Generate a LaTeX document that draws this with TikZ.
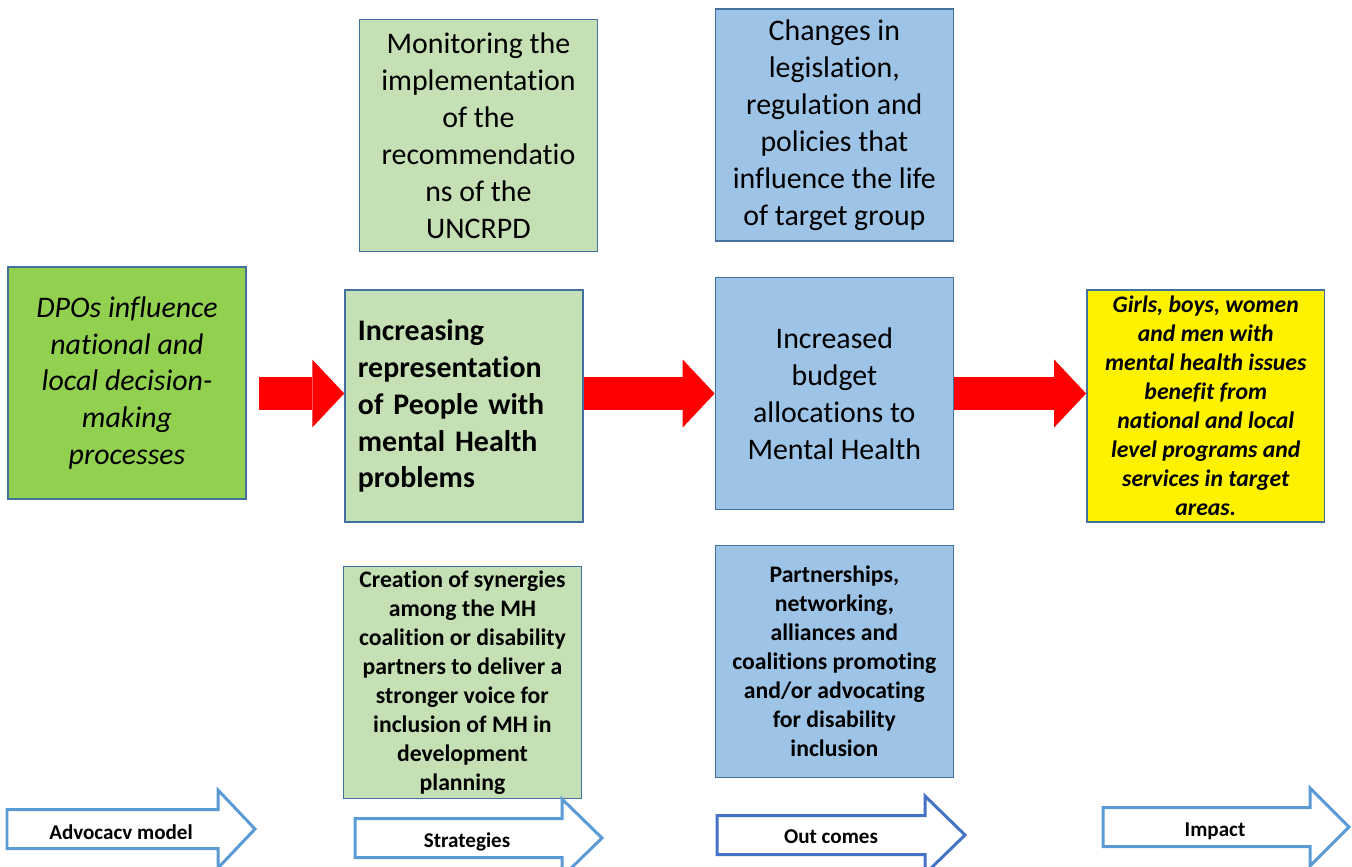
\documentclass[tikz,border=0pt]{standalone}
\usepackage{fontspec}
\setmainfont[Ligatures={NoCommon,NoContextual,NoRare},Contextuals=NoAlternate]{Carlito}
\usepackage{tikz}
\usetikzlibrary{arrows.meta}
\definecolor{grass}{HTML}{92D050}
\definecolor{sage}{HTML}{C5E0B4}
\definecolor{sky}{HTML}{9DC3E6}
\definecolor{rim}{HTML}{41719C}
\definecolor{lineblue}{HTML}{5B9BD5}
\definecolor{deepblue}{HTML}{4472C4}
\newcommand\bigfont{\fontsize{17}{21}\selectfont}
\newcommand\smallfont{\fontsize{13.5}{16.5}\selectfont\bfseries}

\begin{document}
\begin{tikzpicture}[x=0.02cm,y=-0.02cm,
	box/.style={draw=rim,line width=0.8pt,minimum width=4.76cm,minimum height=4.64cm,inner sep=0pt,align=center},
	push/.style={red,line width=0.66cm,-{Triangle[length=0.64cm 0 0,width=1.36cm 0 0,line width=0pt 0 0]}},
	tag/.style={font=\fontsize{12}{14}\selectfont\bfseries,anchor=base}]
	\useasboundingbox (0,0) rectangle (1352,866);
	\clip (0,0) rectangle (1352,866);
	\node(dpo) [box,fill=grass,font=\bigfont\itshape] at (127,383) {DPOs influence\\national and\\local decision-\\making\\processes};
	\node(inc) [box,fill=sage,font=\bigfont\bfseries,right of=dpo,node distance=6.74cm,yshift=-0.46cm,align=left,text width=4.24cm] {Increasing\\representation\\of People with\\mental Health\\problems};
	\node(mon) [box,fill=sage,font=\bigfont,above of=inc,node distance=5.41cm,xshift=0.29cm] {Monitoring the\\implementation\\of the\\recommendatio\\ns of the\\UNCRPD};
	\node(syn) [box,fill=sage,font=\smallfont,below of=inc,node distance=5.53cm,xshift=-0.03cm] {Creation of synergies\\among the MH\\coalition or disability\\partners to deliver a\\stronger voice for\\inclusion of MH in\\development\\planning};
	\node(bud) [box,fill=sky,font=\bigfont,right of=inc,node distance=7.41cm,yshift=0.25cm] {Increased\\budget\\allocations to\\Mental Health};
	\node(leg) [box,fill=sky,font=\bigfont,above of=bud,node distance=5.37cm] {Changes in\\legislation,\\regulation and\\policies that\\influence the life\\of target group};
	\node(net) [box,fill=sky,font=\smallfont,below of=bud,node distance=5.36cm] {Partnerships,\\networking,\\alliances and\\coalitions promoting\\and/or advocating\\for disability\\inclusion};
	\node(ben) [box,fill=yellow,font=\smallfont\itshape,right of=bud,node distance=7.43cm,yshift=-0.25cm] {Girls, boys, women\\and men with\\mental health issues\\benefit from\\national and local\\level programs and\\services in target\\areas.};
	% red arrows along the middle row
	\draw[push,shorten <=0.24cm] (dpo.east |- bud) -- (inc.west |- bud);
	\draw[push] (inc.east |- bud) -- (bud.west);
	\draw[push] (bud.east) -- (ben.west |- bud);
	% outlined arrows with the row titles
	\foreach \xl/\xh/\xt/\yc/\col in {7/218/255/829/lineblue,355/562/602/838/lineblue,717/925/965/835/deepblue,1103/1310/1349/827/lineblue}
		\draw[\col,line width=0.06cm,fill=white] (\xl,\yc-19.5) -- (\xh,\yc-19.5) -- (\xh,\yc-39) -- (\xt,\yc) -- (\xh,\yc+39) -- (\xh,\yc+19.5) -- (\xl,\yc+19.5) -- cycle;
	\node(advl) [tag] at (121,839) {Advocacv model};
	\node(strl) [tag] at (467,847) {Strategies};
	\node(outl) [tag] at (831,843) {Out comes};
	\node(impl) [tag] at (1215,836) {Impact};
\end{tikzpicture}
\end{document}
